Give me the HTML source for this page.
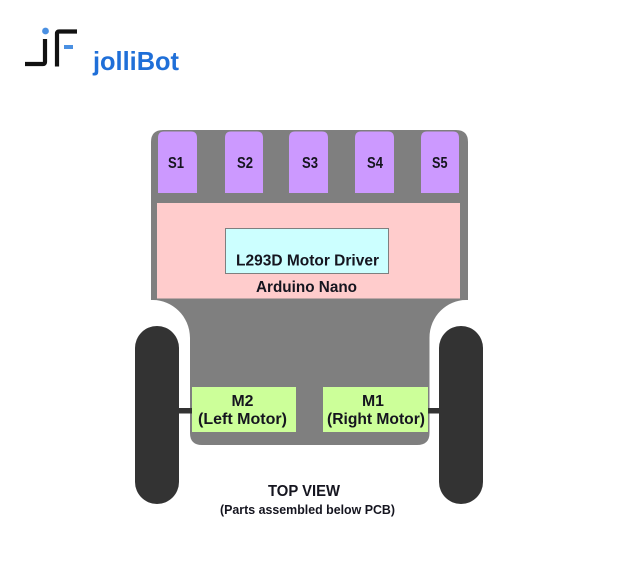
<!DOCTYPE html>
<html><head><meta charset="utf-8"><style>html,body{margin:0;padding:0;background:#fff}svg{display:block;filter:blur(.35px)}text{font-family:"Liberation Sans",sans-serif;font-weight:bold;fill:#15151f;text-anchor:start}</style></head>
<body><svg width="620" height="565" viewBox="0 0 620 565" xmlns="http://www.w3.org/2000/svg">
<rect width="620" height="565" fill="#fff"/>
<!-- logo -->
<circle cx="45.500" cy="31" r="3.400" fill="#4a90e2"/>
<path d="M25 64H43Q45 64 45 62V39" fill="none" stroke="#111" stroke-width="4.200"/>
<path d="M57 66.500V33.500Q57 31.500 59 31.500H77" fill="none" stroke="#111" stroke-width="4.200"/>
<rect x="64" y="45" width="9" height="4" fill="#4a90e2"/>
<text x="93" y="70" font-size="26" textLength="86" lengthAdjust="spacingAndGlyphs" style="fill:#1f6fd8">jolliBot</text>
<!-- body -->
<path d="M163 130H456Q468 130 468 142V300H466C447 300 429.500 316 429.500 338V433Q429.500 445 417 445H202Q190 445 190 433V338C190 316 172 300 153 300H151V142Q151 130 163 130Z" fill="#7f7f7f"/>
<!-- wheels -->
<rect x="178" y="408" width="14" height="5.500" fill="#333"/>
<rect x="428" y="408" width="12" height="5.500" fill="#333"/>
<rect x="135" y="326" width="44" height="178" rx="22" fill="#333"/>
<rect x="439" y="326" width="44" height="178" rx="22" fill="#333"/>
<!-- sensors -->
<g fill="#cc99ff">
<path d="M164 131.500H191Q197 131.500 197 138V193H158V138Q158 131.500 164 131.500Z"/>
<path d="M231 131.500H257Q263 131.500 263 138V193H225V138Q225 131.500 231 131.500Z"/>
<path d="M295 131.500H322Q328 131.500 328 138V193H289V138Q289 131.500 295 131.500Z"/>
<path d="M361 131.500H388Q394 131.500 394 138V193H355V138Q355 131.500 361 131.500Z"/>
<path d="M427 131.500H453Q459 131.500 459 138V193H421V138Q421 131.500 427 131.500Z"/>
</g>
<g font-size="15.500">
<text x="168" y="168" textLength="16" lengthAdjust="spacingAndGlyphs">S1</text>
<text x="237" y="168" textLength="16" lengthAdjust="spacingAndGlyphs">S2</text>
<text x="302" y="168" textLength="16" lengthAdjust="spacingAndGlyphs">S3</text>
<text x="367" y="168" textLength="16" lengthAdjust="spacingAndGlyphs">S4</text>
<text x="432" y="168" textLength="15.500" lengthAdjust="spacingAndGlyphs">S5</text>
</g>
<!-- arduino -->
<rect x="157" y="203" width="303" height="95.500" fill="#ffcccc"/>
<rect x="225.500" y="228.500" width="163" height="45" fill="#ccffff" stroke="#7f7f7f" stroke-width="1"/>
<g font-size="15.500">
<text x="236" y="265.500" textLength="143" lengthAdjust="spacingAndGlyphs">L293D Motor Driver</text>
<text x="256" y="292" textLength="101" lengthAdjust="spacingAndGlyphs">Arduino Nano</text>
</g>
<!-- motors -->
<rect x="192" y="387" width="104" height="45" fill="#ccff99"/>
<rect x="323" y="387" width="105" height="45" fill="#ccff99"/>
<g font-size="15.500">
<text x="231.500" y="406" textLength="22" lengthAdjust="spacingAndGlyphs">M2</text>
<text x="198" y="424" textLength="89" lengthAdjust="spacingAndGlyphs">(Left Motor)</text>
<text x="362" y="406" textLength="22" lengthAdjust="spacingAndGlyphs">M1</text>
<text x="327" y="424" textLength="98" lengthAdjust="spacingAndGlyphs">(Right Motor)</text>
</g>
<text x="268" y="496" font-size="15.500" textLength="72" lengthAdjust="spacingAndGlyphs">TOP VIEW</text>
<text x="220" y="514" font-size="13" textLength="175" lengthAdjust="spacingAndGlyphs">(Parts assembled below PCB)</text>
</svg></body></html>
